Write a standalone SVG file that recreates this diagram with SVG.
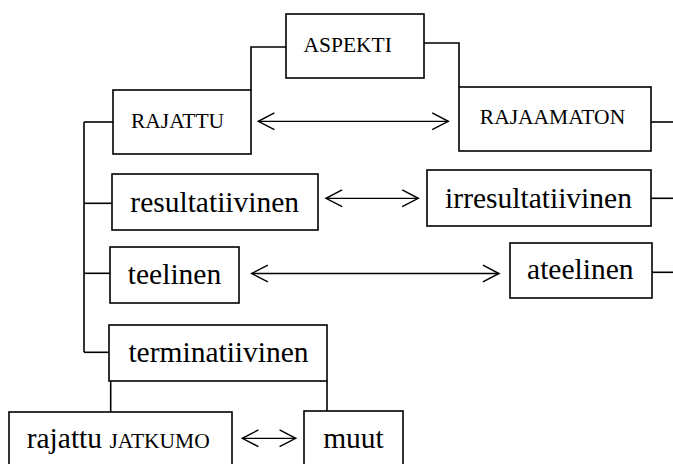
<svg xmlns="http://www.w3.org/2000/svg" width="673" height="464" viewBox="0 0 673 464">
<style>
.box{fill:#fff;stroke:#000;stroke-width:1.6}
.conn{fill:none;stroke:#000;stroke-width:1.6}
.arr{fill:none;stroke:#000;stroke-width:1.3;marker-start:url(#ah);marker-end:url(#ah)}
.lc{font-family:"Liberation Serif","Times New Roman",serif;font-size:29.5px;fill:#000;text-anchor:middle}
.sc{font-family:"Liberation Serif","Times New Roman",serif;font-size:21.5px;fill:#000;text-anchor:middle}
</style>
<defs>
<marker id="ah" markerUnits="userSpaceOnUse" markerWidth="20" markerHeight="20" viewBox="0 0 17 18" refX="15.5" refY="8.5" orient="auto-start-reverse">
<path d="M1,1 L15.5,8.5 L1,16" fill="none" stroke="#000" stroke-width="1.3"/>
</marker>
</defs>
<rect width="673" height="464" fill="#fff"/>
<g id="connectors">
<path class="conn" d="M286,47 H251 V90"/>
<path class="conn" d="M424,43 H459 V87"/>
<path class="conn" d="M84,122 V352.3"/>
<path class="conn" d="M84,122 H113"/>
<path class="conn" d="M84,203.3 H112"/>
<path class="conn" d="M84,273.3 H110"/>
<path class="conn" d="M84,352.3 H109"/>
<path class="conn" d="M651,122 H673"/>
<path class="conn" d="M651,198.3 H673"/>
<path class="conn" d="M652,272.3 H673"/>
<path class="conn" d="M110.7,381 V412"/>
<path class="conn" d="M327,381 V411"/>
<line class="arr" x1="258.3" y1="121.3" x2="448.3" y2="121.3"/>
<line class="arr" x1="326" y1="198.3" x2="418.3" y2="198.3"/>
<line class="arr" x1="251.7" y1="273.5" x2="499" y2="273.5"/>
<line class="arr" x1="242.3" y1="438.3" x2="295.7" y2="438.3"/>
</g>
<g id="aspekti"><rect class="box" x="286" y="14" width="138" height="64"/><text class="sc" x="347.7" y="52">ASPEKTI</text></g>
<g id="rajattu"><rect class="box" x="113" y="90" width="138" height="64"/><text class="sc" x="177.5" y="128">RAJATTU</text></g>
<g id="rajaamaton"><rect class="box" x="459" y="87" width="192" height="64"/><text class="sc" x="552.5" y="124.3">RAJAAMATON</text></g>
<g id="resultatiivinen"><rect class="box" x="112" y="174" width="206" height="56"/><text class="lc" x="214.7" y="211.7">resultatiivinen</text></g>
<g id="irresultatiivinen"><rect class="box" x="427" y="170" width="224" height="56"/><text class="lc" x="538.5" y="208">irresultatiivinen</text></g>
<g id="teelinen"><rect class="box" x="110" y="247" width="129" height="56"/><text class="lc" x="174.5" y="284">teelinen</text></g>
<g id="ateelinen"><rect class="box" x="510" y="243" width="142" height="55"/><text class="lc" x="580.3" y="279.3">ateelinen</text></g>
<g id="terminatiivinen"><rect class="box" x="109" y="325" width="218" height="56"/><text class="lc" x="218.5" y="362.3">terminatiivinen</text></g>
<g id="rajattu-jatkumo"><rect class="box" x="9" y="412" width="223" height="60"/><text class="lc" x="26.7" y="448.3" style="text-anchor:start">rajattu <tspan style="font-size:21.5px">JATKUMO</tspan></text></g>
<g id="muut"><rect class="box" x="304" y="411" width="99" height="60"/><text class="lc" x="353.5" y="448.3">muut</text></g>
</svg>
